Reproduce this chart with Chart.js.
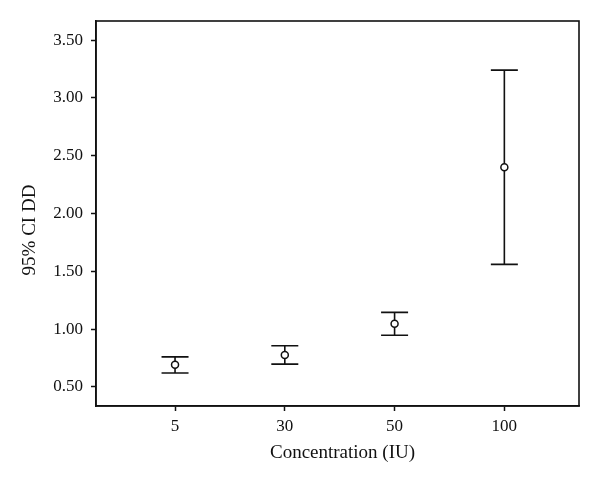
<!DOCTYPE html>
<html>
<head>
<meta charset="utf-8">
<script src="https://cdn.jsdelivr.net/npm/chart.js@4"></script>
<style>
  html, body { margin: 0; padding: 0; background: #fff; }
  #wrap { width: 600px; height: 487px; }
</style>
</head>
<body>
<div id="wrap"><canvas id="ciChart" width="600" height="487"></canvas></div>
<script>
const categories = ['5', '30', '50', '100'];
const meanValues = [0.69, 0.776, 1.046, 2.40];
const lowerValues = [0.62, 0.696, 0.946, 1.56];
const upperValues = [0.759, 0.856, 1.144, 3.241];
const yTicks = [0.5, 1.0, 1.5, 2.0, 2.5, 3.0, 3.5];

const FONT = "'Liberation Serif', 'DejaVu Serif', serif";

// error bars + frame + axis titles
const ciPlugin = {
    id: 'ciPlugin',
    afterDatasetsDraw(chart) {
        const ctx = chart.ctx;
        const x = chart.scales.x, y = chart.scales.y;
        const area = chart.chartArea;
        ctx.save();
        ctx.strokeStyle = '#111';
        ctx.lineWidth = 1.6;
        categories.forEach((c, i) => {
            const px = x.getPixelForValue(i + 1);
            const yl = y.getPixelForValue(lowerValues[i]);
            const yu = y.getPixelForValue(upperValues[i]);
            const ym = y.getPixelForValue(meanValues[i]);
            const half = 13.5;
            ctx.beginPath();
            ctx.moveTo(px, yu); ctx.lineTo(px, ym - 3.5);
            ctx.moveTo(px, ym + 3.5); ctx.lineTo(px, yl);
            ctx.moveTo(px - half, yu); ctx.lineTo(px + half, yu);
            ctx.moveTo(px - half, yl); ctx.lineTo(px + half, yl);
            ctx.stroke();
        });
        ctx.strokeRect(area.left, area.top, area.right - area.left, area.bottom - area.top);

        ctx.fillStyle = '#111';
        ctx.font = '19px ' + FONT;
        ctx.textAlign = 'center';
        ctx.textBaseline = 'middle';
        ctx.fillText('Concentration (IU)', (area.left + area.right) / 2 + 5, 453);
        ctx.translate(30, 230);
        ctx.rotate(-Math.PI / 2);
        ctx.fillText('95% CI DD', 0, 0);
        ctx.restore();
    }
};

new Chart(document.getElementById('ciChart'), {
    type: 'scatter',
    data: {
        datasets: [{
            label: 'Mean',
            data: meanValues.map((v, i) => ({ x: i + 1, y: v })),
            pointStyle: 'circle',
            pointRadius: 3.5,
            pointBorderWidth: 1.5,
            pointBorderColor: '#111',
            pointBackgroundColor: '#fff',
            showLine: false
        }]
    },
    options: {
        responsive: false,
        animation: false,
        layout: { padding: { top: 21, right: 21, left: 0, bottom: 0 } },
        plugins: {
            legend: { display: false },
            tooltip: { enabled: false }
        },
        scales: {
            x: {
                type: 'linear',
                min: 0.28,
                max: 4.68,
                afterBuildTicks: axis => { axis.ticks = categories.map((c, i) => ({ value: i + 1 })); },
                afterFit: axis => { axis.height = 81; },
                ticks: {
                    callback: val => categories[val - 1],
                    color: '#111',
                    font: { family: FONT, size: 17 },
                    padding: 5,
                    maxRotation: 0
                },
                grid: { drawOnChartArea: false, drawTicks: true, tickLength: 5, tickColor: '#111', tickWidth: 1.5 },
                border: { display: true, color: '#111', width: 1.6 }
            },
            y: {
                min: 0.334,
                max: 3.666,
                afterBuildTicks: axis => { axis.ticks = yTicks.map(v => ({ value: v })); },
                afterFit: axis => { axis.width = 96; },
                ticks: {
                    callback: val => val.toFixed(2),
                    color: '#111',
                    font: { family: FONT, size: 17 },
                    padding: 8
                },
                grid: { drawOnChartArea: false, drawTicks: true, tickLength: 5, tickColor: '#111', tickWidth: 1.5 },
                border: { display: true, color: '#111', width: 1.6 }
            }
        }
    },
    plugins: [ciPlugin]
});
</script>
</body>
</html>
